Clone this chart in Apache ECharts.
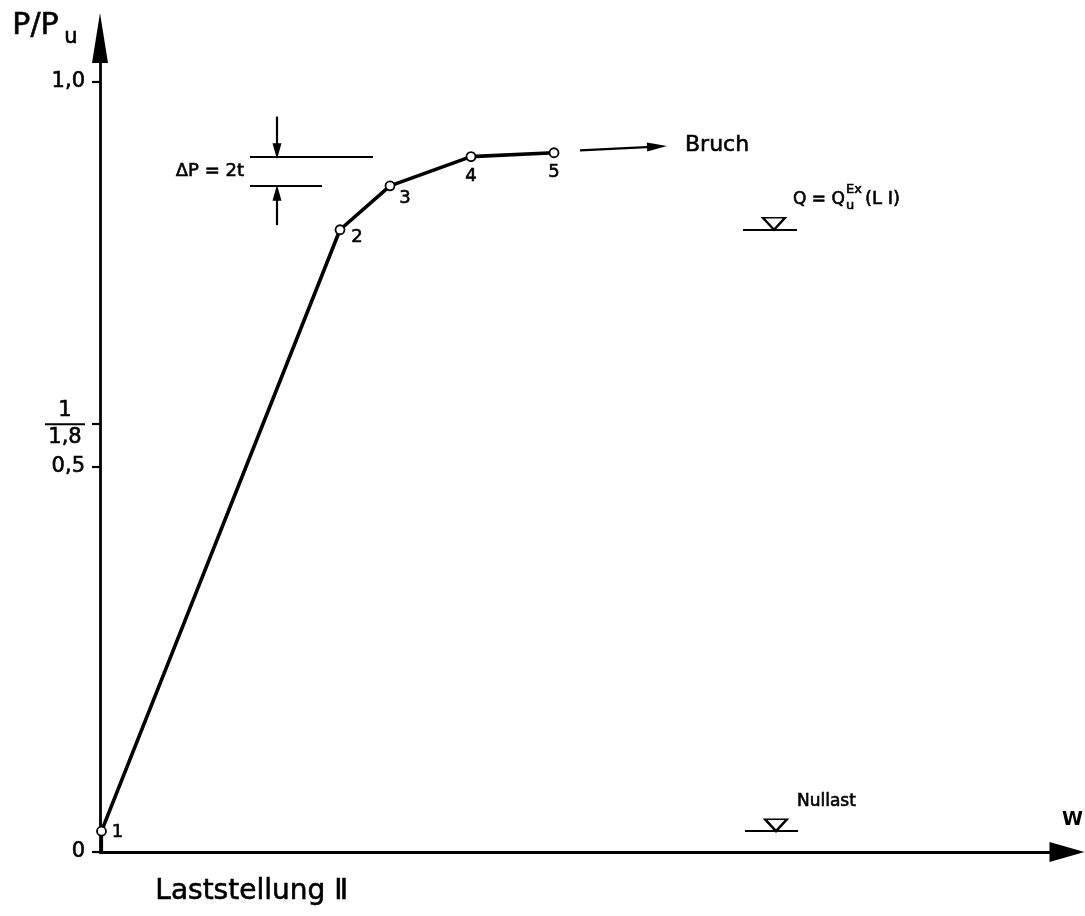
<!DOCTYPE html>
<html><head><meta charset="utf-8">
<script src="https://cdn.jsdelivr.net/npm/echarts@6/dist/echarts.min.js"></script>
<style>html,body{margin:0;padding:0;background:#fff}#c{width:1085px;height:916px}</style>
</head><body><div id="c"></div>
<script>
// ---- data ----
const pointLabels = ['1', '2', '3', '4', '5'];
const wValues = [1.5, 240, 290, 371, 454];
const pValues = [0.027, 0.808, 0.865, 0.903, 0.908];
const yTickValues = [0, 0.5, 1 / 1.8, 1.0];
const yTickLabels = ['0', '0,5', '1/1,8', '1,0'];
// annotation anchors (w, P/Pu)
const bruchArrow = [[480, 0.911], [557, 0.916]];
const bruchText = [585, 0.918];
const dpUpper = [[150, pValues[3]], [273, pValues[3]]];
const dpLower = [[150, pValues[2]], [222, pValues[2]]];
const dpArrowDown = [[177, 0.955], [177, 0.910]];
const dpArrowUp = [[177, 0.814], [177, 0.856]];
const dpText = [144, 0.884];
const qLevel = [[643, pValues[1]], [697, pValues[1]]];
const qMark = [674, pValues[1]];
const qText = [693, 0.847];
const nullLevel = [[645, pValues[0]], [698, pValues[0]]];
const nullMark = [676, pValues[0]];
const nullText = [697, 0.065];

const FONT = '"DejaVu Sans", sans-serif';
const TB = {textBorderColor: '#000', textBorderWidth: 0.6};
const chart = echarts.init(document.getElementById('c'), null, {renderer: 'canvas'});

const ptLabelOffsets = [[16, 1], [17, 8], [15, 12], [0, 20], [0, 20]];
const curveData = wValues.map((w, i) => ({
  value: [w, pValues[i]],
  label: Object.assign({show: true, formatter: pointLabels[i], position: 'inside', offset: ptLabelOffsets[i],
          fontSize: 18, color: '#000', fontFamily: FONT}, TB)
}));

function seg(a, b, arrow) {
  return [{coord: a, symbol: 'none'}, {coord: b, symbol: arrow ? 'triangle' : 'none'}];
}

const tri = 'path://M0,0 L22,0 L11,12 Z';
function txt(value, text, size, extra) {
  return {value: value, label: Object.assign({show: true, formatter: text, position: 'right', distance: 0,
    fontSize: size, color: '#000', fontFamily: FONT, opacity: 1}, TB, extra || {})};
}

const option = {
  backgroundColor: '#fff',
  animation: false,
  grid: {left: 100, right: 18, top: 38, bottom: 64},
  xAxis: {
    type: 'value', min: 0, max: 967,
    axisLine: {show: true, symbol: ['none', 'triangle'], symbolSize: [20, 35], lineStyle: {color: '#000', width: 2.8}},
    axisTick: {show: false}, axisLabel: {show: false}, splitLine: {show: false}
  },
  yAxis: {
    type: 'value', min: 0, max: 1.057,
    axisLine: {show: true, onZero: false, symbol: ['none', 'triangle'], symbolSize: [16, 50], lineStyle: {color: '#000', width: 2.8}},
    axisTick: {show: true, customValues: yTickValues, length: 8, lineStyle: {color: '#000', width: 2.2}},
    axisLabel: Object.assign({
      show: true, customValues: yTickValues, margin: 15, color: '#000', fontSize: 21, fontFamily: FONT,
      formatter: function (v) {
        const i = yTickValues.findIndex(t => Math.abs(t - v) < 1e-6);
        const s = i >= 0 ? yTickLabels[i] : '';
        if (s.indexOf('/') >= 0) {
          const p = s.split('/');
          return '{n|' + p[0] + '}\n{bar| }\n{d|' + p[1] + '}';
        }
        return s;
      },
      rich: {
        n: Object.assign({fontSize: 21, width: 40, align: 'center', lineHeight: 22, color: '#000', fontFamily: FONT}, TB),
        bar: {fontSize: 1, width: 40, height: 2, lineHeight: 5, backgroundColor: '#000'},
        d: Object.assign({fontSize: 21, width: 40, align: 'center', lineHeight: 22, color: '#000', fontFamily: FONT}, TB)
      }
    }, TB),
    splitLine: {show: false}
  },
  series: [
    {
      type: 'line', data: curveData, z: 5,
      symbol: 'circle', symbolSize: 9,
      itemStyle: {color: '#fff', borderColor: '#000', borderWidth: 1.8},
      lineStyle: {color: '#000', width: 3.6},
      markLine: {
        silent: true, symbolSize: [9, 16], label: {show: false},
        lineStyle: {color: '#000', width: 2.2, type: 'solid'},
        emphasis: {disabled: true},
        data: [
          seg([wValues[0], pValues[0]], [wValues[0], 0], false),
          seg(dpUpper[0], dpUpper[1], false),
          seg(dpLower[0], dpLower[1], false),
          seg(dpArrowDown[0], dpArrowDown[1], true),
          seg(dpArrowUp[0], dpArrowUp[1], true),
          seg(qLevel[0], qLevel[1], false),
          seg(nullLevel[0], nullLevel[1], false),
          [{coord: bruchArrow[0], symbol: 'none'}, {coord: bruchArrow[1], symbol: 'triangle', symbolSize: [9, 20]}]
        ]
      }
    },
    {
      type: 'scatter', z: 6, symbol: tri, symbolSize: [22, 12], symbolOffset: [0, -6],
      itemStyle: {color: '#fff', borderColor: '#000', borderWidth: 2.2, opacity: 1},
      emphasis: {disabled: true},
      data: [qMark, nullMark]
    },
    {
      type: 'scatter', z: 7, symbolSize: 0,
      itemStyle: {opacity: 1},
      emphasis: {disabled: true},
      data: [
        txt(bruchText, 'Bruch', 22),
        txt(dpText, 'ΔP = 2t', 18, {position: 'left'}),
        txt(nullText, 'Nullast', 17),
        txt(qText, 'Q = Q', 17),
        txt(qText, 'Ex', 13, {offset: [53, -10]}),
        txt(qText, 'u', 13, {offset: [53, 6]}),
        txt(qText, '(L I)', 18, {offset: [72, 0]})
      ]
    }
  ],
  graphic: [
    {type: 'text', left: 12, top: 11, style: Object.assign({text: 'P/P', fontSize: 30, fontFamily: FONT, fill: '#000', stroke: '#000', lineWidth: 0.6})},
    {type: 'text', left: 64, top: 27, style: {text: 'u', fontSize: 21, fontFamily: FONT, fill: '#000', stroke: '#000', lineWidth: 0.6}},
    {type: 'text', left: 1062, top: 811, style: {text: 'W', fontSize: 19, fontWeight: 'bold', fontFamily: FONT, fill: '#000'}},
    {type: 'text', left: 155, top: 877, style: {text: 'Laststellung Ⅱ', fontSize: 28, fontFamily: FONT, fill: '#000', stroke: '#000', lineWidth: 0.6}}
  ]
};
chart.setOption(option);
</script></body></html>
